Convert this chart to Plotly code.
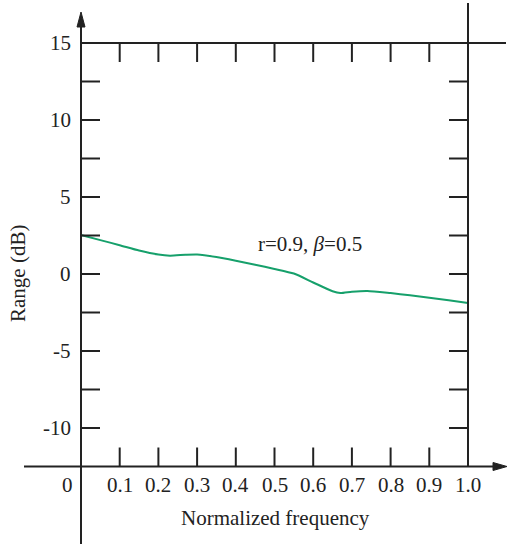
import plotly.graph_objects as go

# data
freq = [0, 0.05, 0.1, 0.15, 0.2, 0.23, 0.27, 0.3, 0.35, 0.4, 0.45, 0.5, 0.55,
        0.6, 0.65, 0.67, 0.7, 0.74, 0.8, 0.85, 0.9, 0.95, 1.0]
range_db = [2.53, 2.2, 1.87, 1.52, 1.26, 1.19, 1.25, 1.27, 1.1, 0.86, 0.6, 0.33, 0.03,
            -0.55, -1.12, -1.24, -1.15, -1.1, -1.24, -1.38, -1.54, -1.71, -1.88]
x_ticks = [0.1, 0.2, 0.3, 0.4, 0.5, 0.6, 0.7, 0.8, 0.9, 1.0]
x_tick_labels = ["0.1", "0.2", "0.3", "0.4", "0.5", "0.6", "0.7", "0.8", "0.9", "1.0"]
y_ticks = [-10, -7.5, -5, -2.5, 0, 2.5, 5, 7.5, 10, 12.5, 15]
y_label_vals = [-10, -5, 0, 5, 10, 15]
y_tick_labels = ["-10", "-5", "0", "5", "10", "15"]

W, H = 507, 544
X0, X1 = -81 / 387, (W - 81) / 387
Y1, Y0 = 274 / 15.4, (274 - H) / 15.4
xu = 1 / 387      # data per pixel
yu = 1 / 15.4

AX = "#222222"
FONT = "Liberation Serif"
FS = 21
y_base = -12.5

fig = go.Figure()

# curve
fig.add_trace(go.Scatter(x=freq, y=range_db, mode="lines",
                         line=dict(color="#16a06b", width=2, shape="spline", smoothing=0.6),
                         hoverinfo="skip"))

# tick marks
tx, ty = [], []
tl = 19
for v in y_ticks:
    tx += [0, tl * xu, None]; ty += [v, v, None]
for v in y_ticks:
    if v in (15, y_base):
        continue
    tx += [1.0, 1.0 - tl * xu, None]; ty += [v, v, None]
for v in x_ticks[:-1]:
    tx += [v, v, None]; ty += [15, 15 - tl * yu, None]
    tx += [v, v, None]; ty += [y_base, y_base + tl * yu, None]
fig.add_trace(go.Scatter(x=tx, y=ty, mode="lines", line=dict(color=AX, width=2),
                         hoverinfo="skip"))

# frame lines
lw = 2
fig.add_shape(type="line", x0=0, x1=0, y0=Y0, y1=16.2, line=dict(color=AX, width=lw))
fig.add_shape(type="line", x0=(24 - 81) * xu, x1=1.07, y0=y_base, y1=y_base, line=dict(color=AX, width=lw))
fig.add_shape(type="line", x0=0, x1=(506 - 81) * xu, y0=15, y1=15, line=dict(color=AX, width=lw))
fig.add_shape(type="line", x0=1.0, x1=1.0, y0=y_base, y1=(274 - 3) * yu, line=dict(color=AX, width=lw))

# arrowheads
fig.add_shape(type="path",
              path=f"M {-4*xu} {(274-27)*yu} L {4*xu} {(274-27)*yu} L 0 {(274-12)*yu} Z",
              fillcolor=AX, line=dict(color=AX, width=1))
fig.add_shape(type="path",
              path=f"M {(493-81)*xu} {y_base+4*yu} L {(493-81)*xu} {y_base-4*yu} L {(507-81)*xu} {y_base} Z",
              fillcolor=AX, line=dict(color=AX, width=1))

ann = []
for v, t in zip(y_label_vals, y_tick_labels):
    ann.append(dict(x=-8 * xu, y=v, text=t, xanchor="right", yanchor="middle",
                    showarrow=False, font=dict(family=FONT, size=FS, color=AX)))
for v, t in zip(x_ticks, x_tick_labels):
    ann.append(dict(x=v, y=y_base - 18 * yu, text=t, xanchor="center", yanchor="middle",
                    showarrow=False, font=dict(family=FONT, size=FS, color=AX)))
ann.append(dict(x=-14 * xu, y=y_base - 18 * yu, text="0", xanchor="center", yanchor="middle",
                showarrow=False, font=dict(family=FONT, size=FS, color=AX)))
ann.append(dict(x=(275 - 81) * xu, y=y_base - 51 * yu, text="Normalized frequency",
                xanchor="center", yanchor="middle", showarrow=False,
                font=dict(family=FONT, size=FS, color=AX)))
ann.append(dict(x=(18 - 81) * xu, y=0, text="Range (dB)", textangle=-90,
                xanchor="center", yanchor="middle", showarrow=False,
                font=dict(family=FONT, size=FS, color=AX)))
ann.append(dict(x=(310 - 81) * xu, y=(274 - 244) * yu, text="r=0.9, <i>β</i>=0.5",
                xanchor="center", yanchor="middle", showarrow=False,
                font=dict(family=FONT, size=FS, color=AX)))

fig.update_layout(
    width=W, height=H, margin=dict(l=0, r=0, t=0, b=0),
    paper_bgcolor="white", plot_bgcolor="white", showlegend=False,
    xaxis=dict(range=[X0, X1], visible=False, fixedrange=True),
    yaxis=dict(range=[Y0, Y1], visible=False, fixedrange=True),
    annotations=ann,
)
fig.write_html("out.html")
